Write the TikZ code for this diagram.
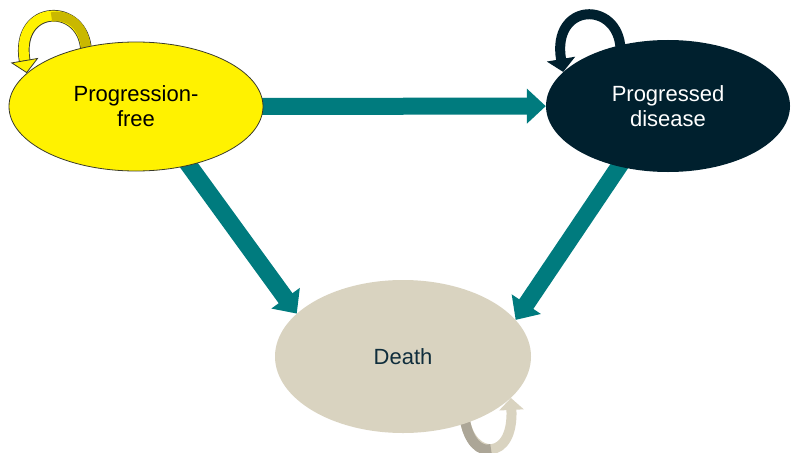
\documentclass[tikz,border=0pt]{standalone}
\usepackage{fontspec}
\setmainfont{Liberation Sans}
\usetikzlibrary{shapes.geometric}
\usetikzlibrary{arrows.meta}
\usetikzlibrary{backgrounds}
\definecolor{pfyellow}{HTML}{FFF200}
\definecolor{pfolive}{HTML}{C9B800}
\definecolor{pfrim}{HTML}{3A3A2A}
\definecolor{pdnavy}{HTML}{00202E}
\definecolor{deathbeige}{HTML}{D9D3C0}
\definecolor{deathshade}{HTML}{ACA697}
\definecolor{deathtext}{HTML}{0F2D3C}
\definecolor{flowteal}{HTML}{007B7E}

\begin{document}
\begin{tikzpicture}[x=1pt,y=-1pt,
    state node/.style={ellipse,inner sep=0pt,align=center,font=\fontsize{22}{25}\selectfont},
    flow/.style={-{Triangle[width=34pt,length=19pt]},line width=17pt,color=flowteal,shorten <=-6pt},
    self loop/.style={line width=10pt,shorten <=-4pt}]
  \useasboundingbox (0,0) rectangle (791,452);
  \node[state node,fill=pfyellow,draw=pfrim,line width=0.8pt,minimum width=254pt,minimum height=129pt] (pf) at (136,106.5) {Progression-\\free};
  \node[state node,fill=pdnavy,text=white,minimum width=244pt,minimum height=132pt] (pd) at (668,106) {Progressed\\disease};
  \node[state node,fill=deathbeige,text=deathtext,minimum width=256pt,minimum height=153pt] (death) at (403,356.5) {Death};
  \coordinate (pftop) at (51.5,17.1);
  \coordinate (deathbottom) at (491,449);
  \begin{scope}[on background layer]
    \path[flow] (pf) edge (pd);
    \path[flow] (pf.-48) edge (death.158);
    \path[flow] (pd.-129) edge (death.18);
    % self loops
    \draw[self loop,line width=11.6pt,pfrim,shorten >=12pt] (pf.130) .. controls +(-2,-45) and +(-12,-70) .. (pf.163);
    \draw[self loop,pfyellow,-{Triangle[width=28pt,length=13pt,fill=pfyellow,color=pfrim,line width=0.8pt]}] (pf.130) .. controls +(-2,-45) and +(-12,-70) .. (pf.163);
    \draw[self loop,line width=9.6pt,pfolive] (pf.130) .. controls +(-1,-22.5) and +(16,-3.4) .. (pftop);
    \draw[self loop,pdnavy,-{Triangle[width=28pt,length=13pt]}] (pd.128) .. controls +(-2,-45) and +(-12,-70) .. (pd.162);
    \draw[self loop,deathbeige,-{Triangle[width=24pt,length=12pt]}] (death.-47) .. controls +(6,36) and +(3,64) .. (death.-21);
    \draw[self loop,deathshade] (death.-47) .. controls +(3,18) and +(-11,3.5) .. (deathbottom);
  \end{scope}
\end{tikzpicture}
\end{document}
